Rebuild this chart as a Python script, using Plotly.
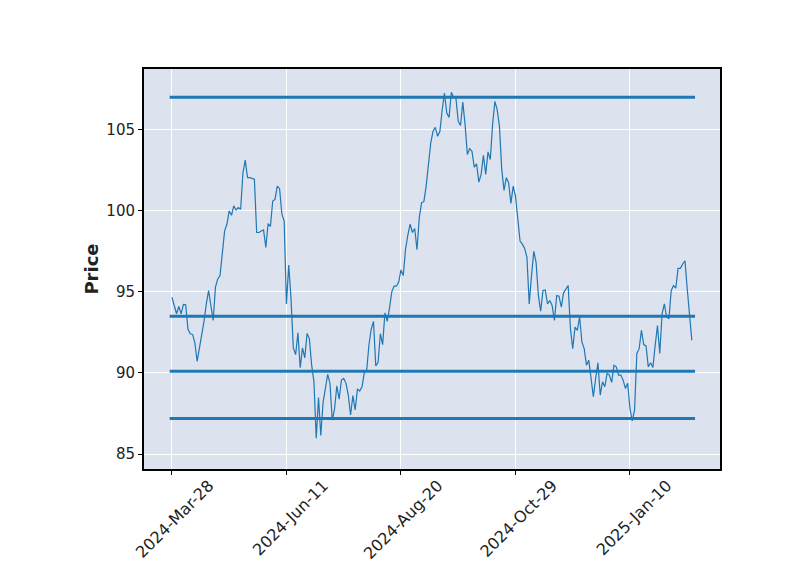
import plotly.graph_objects as go

# ---- data ----
tick_labels = ["2024-Mar-28", "2024-Jun-11", "2024-Aug-20", "2024-Oct-29", "2025-Jan-10"]
tick_step = 50  # rows between labelled ticks

prices = [
    94.67, 94.10, 93.65, 94.10, 93.65, 94.22, 94.20, 92.69, 92.42, 92.38,
    91.87, 90.72, 91.50, 92.42, 93.18, 94.26, 95.08, 94.16, 93.24, 95.29,
    95.80, 96.00, 97.23, 98.76, 99.17, 99.99, 99.72, 100.30, 100.05, 100.20,
    100.09, 102.34, 103.12, 102.04, 102.04, 102.00, 101.95, 98.66, 98.66, 98.75,
    98.82, 97.74, 99.21, 99.03, 100.60, 100.70, 101.52, 101.36, 99.79, 99.37,
    94.26, 96.66, 94.57, 91.55, 91.13, 92.48, 90.32, 91.55, 90.93, 92.44,
    92.12, 90.48, 89.46, 85.98, 88.48, 86.15, 88.19, 89.05, 89.91, 89.36,
    87.09, 87.78, 89.21, 88.39, 89.56, 89.66, 89.36, 88.64, 87.41, 88.60,
    87.72, 89.01, 88.89, 89.15, 90.03, 90.11, 91.71, 92.69, 93.18, 90.44,
    90.64, 92.42, 91.75, 93.71, 93.18, 94.00, 95.02, 95.35, 95.35, 95.60,
    96.35, 96.00, 97.64, 98.50, 99.17, 98.66, 98.91, 97.60, 99.58, 100.50,
    100.56, 101.52, 102.85, 104.18, 104.90, 105.14, 104.59, 104.90, 106.23, 107.25,
    106.02, 105.76, 107.31, 106.98, 106.94, 105.51, 105.26, 106.70, 105.31, 103.47,
    103.83, 103.67, 102.69, 102.90, 101.77, 102.24, 103.42, 102.24, 103.63, 103.16,
    105.31, 106.74, 106.23, 105.20, 102.55, 101.26, 102.04, 101.73, 100.46, 101.52,
    100.91, 99.68, 98.13, 97.94, 97.68, 97.13, 94.26, 96.00, 97.50, 96.82,
    94.77, 93.81, 95.08, 95.12, 94.26, 94.47, 94.16, 93.24, 94.77, 94.73,
    94.06, 94.94, 95.18, 95.39, 92.73, 91.50, 92.83, 92.63, 93.45, 91.91,
    91.50, 90.48, 90.79, 89.66, 88.54, 89.66, 90.63, 88.64, 89.46, 89.15,
    89.97, 89.87, 89.42, 90.48, 90.38, 89.87, 89.87, 89.56, 89.05, 89.36,
    87.78, 87.04, 87.72, 91.20, 91.50, 92.63, 91.75, 91.67, 90.38, 90.63,
    90.34, 91.71, 92.93, 91.20, 93.65, 94.26, 93.45, 93.34, 95.08, 95.39,
    95.23, 96.45, 96.45, 96.72, 96.92, 95.18, 93.34, 92.01,
]

hline_levels = [107.0, 93.5, 90.1, 87.2]

# ---- figure ----
n = len(prices)
x_idx = list(range(n))
color = "#1f77b4"

fig = go.Figure()
fig.add_trace(go.Scatter(x=x_idx, y=prices, mode="lines",
                         line=dict(color=color, width=1.2), name="Close"))
for lv in hline_levels:
    fig.add_trace(go.Scatter(x=[-1, n + 0.4], y=[lv, lv], mode="lines",
                             line=dict(color=color, width=3), name=str(lv)))

fig.update_layout(
    width=800, height=575,
    margin=dict(l=144, r=80, t=69, b=104),
    showlegend=False,
    paper_bgcolor="white",
    plot_bgcolor="#DCE3EF",
    font=dict(family="DejaVu Sans", size=15, color="#222222"),
)

fig.update_xaxes(
    range=[-12.2, 239.3],
    tickmode="array",
    tickvals=[i * tick_step for i in range(len(tick_labels))],
    ticktext=tick_labels,
    tickangle=-45,
    tickfont=dict(size=16),
    ticks="outside", ticklen=4, tickcolor="black", tickwidth=1,
    showline=True, mirror=True, linecolor="black", linewidth=2,
    showgrid=True, gridcolor="white", gridwidth=1,
    zeroline=False,
    ticklabelshift=37, ticklabelstandoff=-5,
)
fig.update_yaxes(
    range=[84.08, 108.74],
    tickmode="array",
    tickvals=[85, 90, 95, 100, 105],
    tickfont=dict(size=15),
    ticks="outside", ticklen=4, tickcolor="black", tickwidth=1,
    showline=True, mirror=True, linecolor="black", linewidth=2,
    showgrid=True, gridcolor="white", gridwidth=1,
    zeroline=False,
    title=dict(text="Price", font=dict(size=18, weight="bold", color="#222222"), standoff=3),
)

fig.write_html("out.html")
